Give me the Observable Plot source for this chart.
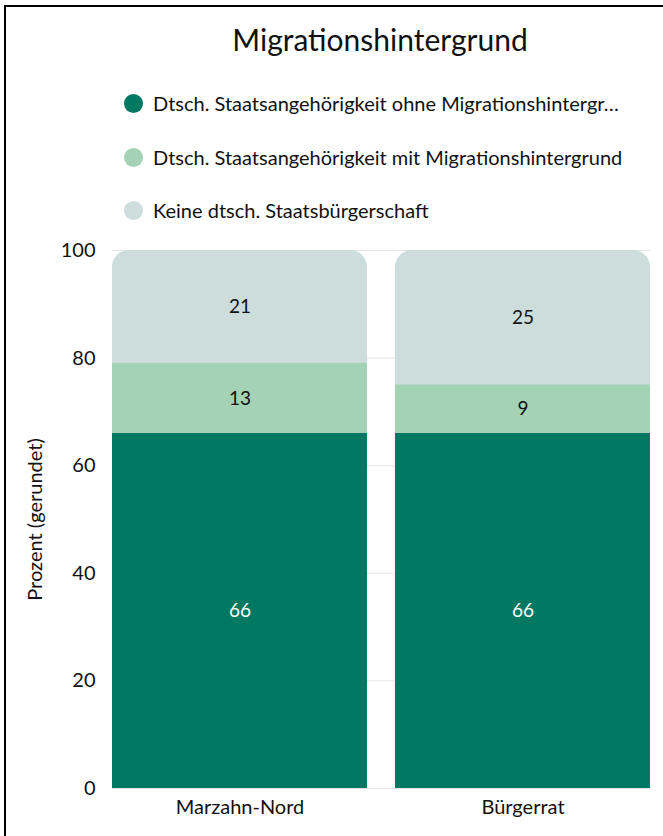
<!DOCTYPE html>
<html>
<head>
<meta charset="utf-8">
<script src="https://cdn.jsdelivr.net/npm/d3@7"></script>
<script src="https://cdn.jsdelivr.net/npm/@observablehq/plot@0.6"></script>
<style>
  html, body { margin: 0; padding: 0; background: #fff; }
  #wrap { position: relative; width: 663px; height: 836px; overflow: hidden; font-family: Lato, "Noto Sans", sans-serif; color: #111; }
  #frame { position: absolute; left: 4px; top: 5px; width: 800px; height: 900px; border: 2px solid #000; box-sizing: border-box; }
  #title { position: absolute; left: 100px; width: 560px; top: 21px; text-align: center; font-size: 30px; }
  .leg { position: absolute; left: 124px; font-size: 20px; display: flex; align-items: center; white-space: nowrap; }
  .leg .dot { width: 19px; height: 19px; border-radius: 50%; margin-right: 10px; }
  #chart { position: absolute; left: 0; top: 230px; }
</style>
</head>
<body>
<div id="wrap">
  <div id="frame"></div>
  <div id="title">Migrationshintergrund</div>
  <div id="legend"></div>
  <div id="chart"></div>
</div>
<script>
const categories = ["Marzahn-Nord", "Bürgerrat"];
const seriesNames = [
  "Dtsch. Staatsangehörigkeit ohne Migrationshintergrund",
  "Dtsch. Staatsangehörigkeit mit Migrationshintergrund",
  "Keine dtsch. Staatsbürgerschaft"
];
const legendLabels = [
  "Dtsch. Staatsangehörigkeit ohne Migrationshintergr…",
  "Dtsch. Staatsangehörigkeit mit Migrationshintergrund",
  "Keine dtsch. Staatsbürgerschaft"
];
const ohneMigration = [66, 66];
const mitMigration = [13, 9];
const keineStaatsb = [21, 25];
const colors = ["#007862", "#a3d2b4", "#ccdddc"];
const labelColors = ["#ffffff", "#111111", "#111111"];
const yTicks = [0, 20, 40, 60, 80, 100];

// legend
const legend = document.getElementById("legend");
const legendTops = [91, 145, 198];
legendLabels.forEach((l, i) => {
  const d = document.createElement("div");
  d.className = "leg";
  d.style.top = legendTops[i] + "px";
  d.innerHTML = `<span class="dot" style="background:${colors[i]}"></span><span>${l}</span>`;
  legend.appendChild(d);
});

// build stacked rows
const seriesValues = [ohneMigration, mitMigration, keineStaatsb];
const rows = [];
categories.forEach((c, ci) => {
  let acc = 0;
  seriesValues.forEach((vals, si) => {
    const v = vals[ci];
    rows.push({cat: c, series: seriesNames[si], si, value: v, y1: acc, y2: acc + v});
    acc += v;
  });
});
const totals = categories.map((c, ci) => ({cat: c, total: d3.sum(seriesValues, s => s[ci])}));
const lower = rows.filter(r => r.si < 2);

const chart = Plot.plot({
  width: 663,
  height: 600,
  marginLeft: 112,
  marginRight: 13,
  marginTop: 20,
  marginBottom: 42,
  style: {fontFamily: "Lato, 'Noto Sans', sans-serif", fontSize: "20px", color: "#111"},
  x: {domain: categories, paddingInner: 0.1, paddingOuter: 0, label: null},
  y: {domain: [0, 100], ticks: yTicks, label: "Prozent (gerundet)"},
  color: {domain: seriesNames, range: colors},
  marks: [
    Plot.gridY(yTicks, {stroke: "#e6e6e6", strokeOpacity: 1}),
    // top (gray) segment drawn full-height with rounded corners, lower segments cover the bottom
    Plot.barY(totals, {x: "cat", y1: 0, y2: "total", fill: colors[2], rx: 17}),
    Plot.barY(lower, {x: "cat", y1: "y1", y2: "y2", fill: "series"}),
    Plot.text(rows, {
      x: "cat",
      y: d => (d.y1 + d.y2) / 2,
      text: d => String(d.value),
      fill: d => labelColors[d.si],
      fontSize: 19
    }),
    Plot.axisY(yTicks, {tickSize: 0, tickPadding: 17, fontSize: 20, label: "Prozent (gerundet)", labelAnchor: "center", labelArrow: "none", labelOffset: 85}),
    Plot.axisX({tickSize: 0, tickPadding: 11, fontSize: 20, label: null})
  ]
});
document.getElementById("chart").appendChild(chart);
</script>
</body>
</html>
